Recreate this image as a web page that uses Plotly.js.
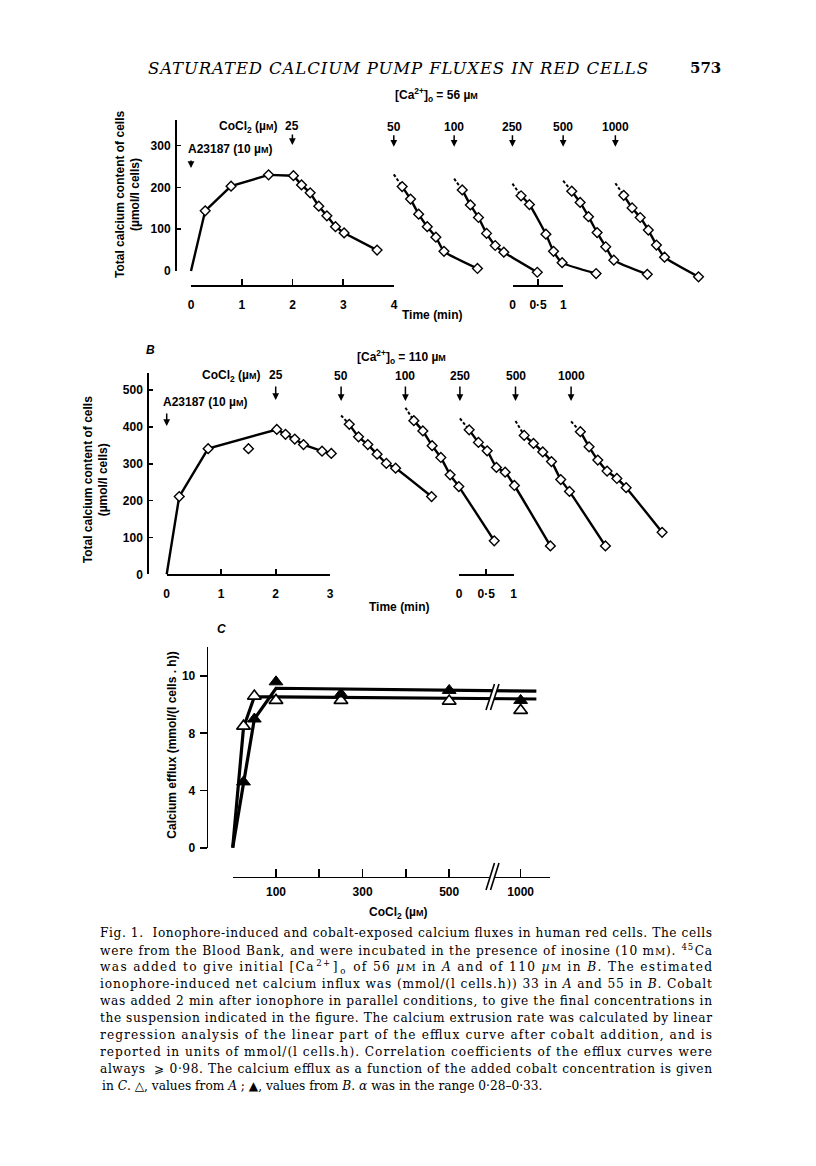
<!DOCTYPE html>
<html><head><meta charset="utf-8">
<script src="https://cdn.plot.ly/plotly-3.0.1.min.js"></script>
<style>html,body{margin:0;padding:0;background:#fff}</style>
</head><body><div id="chart" style="width:816px;height:1166px"></div>
<script>
// ================= DATA =================
const cobaltLabels = ['50', '100', '250', '500', '1000'];

// Panel A : [Ca2+]o = 56 µM — time (min), total Ca (µmol/l cells)
const aMainTime = [0, 0.28, 0.79, 1.53, 2.02, 2.18, 2.35, 2.52, 2.68, 2.85, 3.02, 3.67];
const aMainCa   = [0, 144, 203, 230, 228, 206, 187, 155, 132, 106, 91, 50];
const aSegStartCa = [231, 221, 209, 216, 210];   // extrapolated value at cobalt addition
const aSegTime = [
  [0.165, 0.33, 0.49, 0.66, 0.83, 0.99, 1.65],
  [0.16, 0.32, 0.48, 0.64, 0.81, 0.98, 1.64],
  [0.17, 0.335, 0.66, 0.81, 0.98, 1.65],
  [0.17, 0.335, 0.50, 0.67, 0.84, 1.00, 1.66],
  [0.165, 0.33, 0.49, 0.65, 0.81, 0.97, 1.64]
];
const aSegCa = [
  [202, 172, 136, 106, 81, 47, 6],
  [194, 158, 128, 90, 61, 45, -3],
  [180, 159, 88, 47, 20, -6],
  [191, 164, 130, 92, 58, 26, -8],
  [181, 151, 128, 98, 62, 33, -14]
];

// Panel B : [Ca2+]o = 110 µM
const bMainTime = [0, 0.23, 0.76, 2.02, 2.18, 2.35, 2.51, 2.85, 3.02];
const bMainCa   = [0, 211, 341, 393, 380, 367, 352, 334, 328];
const bOutTime = [1.50];
const bOutCa   = [341];
const bSegStartCa = [431, 452, 423, 416, 415];
const bSegTime = [
  [0.15, 0.32, 0.49, 0.66, 0.83, 1.00, 1.66],
  [0.155, 0.32, 0.49, 0.65, 0.82, 0.98, 1.63],
  [0.17, 0.34, 0.50, 0.67, 0.83, 1.00, 1.66],
  [0.16, 0.33, 0.50, 0.66, 0.83, 0.99, 1.65],
  [0.17, 0.33, 0.49, 0.66, 0.84, 1.01, 1.67]
];
const bSegCa = [
  [407, 373, 352, 326, 301, 288, 211],
  [417, 389, 349, 317, 270, 238, 91],
  [392, 358, 335, 290, 277, 241, 77],
  [377, 355, 332, 306, 257, 225, 77],
  [387, 346, 310, 280, 260, 235, 114]
];

// Panel C : calcium efflux vs CoCl2 (µM)
const cobaltConc = [25, 50, 100, 250, 500, 1000];
const effluxA = [8.5, 10.6, 10.3, 10.3, 10.25, 9.6];    // open triangles
const effluxB = [4.6, 9.0, 11.6, 10.75, 11.0, 10.3];    // filled triangles
const fitConc = [0, 25, 50, 100, 1110];
const fitA = [0, 8.4, 10.55, 10.55, 10.4];
const fitB = [0, 4.6, 9.0, 11.15, 10.95];
const cYTickVals = [0, 4, 8, 12];
const cYTickText = ['0', '4', '8', '10'];
const cXTickVals = [0, 100, 200, 300, 400, 500, 1000];
const cXTickText = ['', '100', '', '300', '', '500', '1000'];

// ================= LAYOUT HELPERS =================
const W = 816, H = 1166;
const fx = p => p / W;
const fy = p => 1 - p / H;
const domX = (a, b) => [fx(a), fx(b)];
const domY = (top, bot) => [fy(bot), fy(top)];
const brk = c => c <= 500 ? c : 500 + (c - 500) * 0.33;   // axis break 500 // 1000

// time offsets (min) where each cobalt concentration was added on the panel time axis
const aSegOffset = [4.0, 5.19, 6.34, 7.34, 8.37];
const bSegOffset = [3.20, 4.38, 5.38, 6.40, 7.42];

const SANS = 'Liberation Sans, Arial, Helvetica, sans-serif';
const SERIF = 'DejaVu Serif, serif';
const tf = {family: SANS, size: 12, color: '#000', weight: 'bold'};
const uM = 'µ<span style="font-size:9px">M</span>';

function hidden(domain, range, anchor) {
  return {domain, range, anchor, showline: false, showgrid: false, zeroline: false,
          showticklabels: false, ticks: '', fixedrange: true};
}
function shownX(domain, range, posY, tickvals, ticktext, ticklen) {
  return {domain, range, anchor: 'free', position: fy(posY), showline: true, linecolor: '#000',
          linewidth: 1.6, ticks: 'inside', ticklen: ticklen, tickwidth: 1.6, tickcolor: '#000',
          tickvals, ticktext, showgrid: false, zeroline: false, tickfont: tf,
          ticklabelstandoff: 8, fixedrange: true};
}
function shownY(domain, range, posX, tickvals, ticktext, ticks, ticklen) {
  return {domain, range, anchor: 'free', position: fx(posX), showline: true, linecolor: '#000',
          linewidth: 1.6, ticks, ticklen, tickwidth: 1.6, tickcolor: '#000',
          tickvals, ticktext, showgrid: false, zeroline: false, tickfont: tf,
          ticklabelstandoff: 2, fixedrange: true};
}

// ================= TRACES =================
const traces = [];
const diamond = {symbol: 'diamond', size: 7.5, color: '#fff', line: {color: '#000', width: 1.4}};
const lineSty = {color: '#000', width: 2.4};

function addMain(xa, ya, t, c) {
  traces.push({x: t, y: c, xaxis: xa, yaxis: ya, mode: 'lines', line: lineSty, hoverinfo: 'skip'});
  traces.push({x: t.slice(1), y: c.slice(1), xaxis: xa, yaxis: ya, mode: 'markers', marker: diamond, hoverinfo: 'skip'});
}
function addSegs(xa, ya, offs, startCa, segT, segCa) {
  segT.forEach((ts, i) => {
    const xs = ts.map(t => offs[i] + t);
    traces.push({x: [offs[i], xs[0]], y: [startCa[i], segCa[i][0]], xaxis: xa, yaxis: ya, mode: 'lines',
                 line: {color: '#000', width: 2, dash: '3px,2px'}, hoverinfo: 'skip'});
    traces.push({x: xs, y: segCa[i], xaxis: xa, yaxis: ya, mode: 'lines+markers',
                 line: Object.assign({shape: 'spline', smoothing: 0.5}, lineSty), marker: diamond, hoverinfo: 'skip'});
  });
}
// Panel A
addMain('x', 'y', aMainTime, aMainCa);
addSegs('x', 'y', aSegOffset, aSegStartCa, aSegTime, aSegCa);
// Panel B
addMain('x4', 'y3', bMainTime, bMainCa);
traces.push({x: bOutTime, y: bOutCa, xaxis: 'x4', yaxis: 'y3', mode: 'markers', marker: diamond, hoverinfo: 'skip'});
addSegs('x4', 'y3', bSegOffset, bSegStartCa, bSegTime, bSegCa);
// Panel C
traces.push({x: fitConc.map(brk), y: fitA, xaxis: 'x7', yaxis: 'y5', mode: 'lines', line: {color: '#000', width: 3.2}, hoverinfo: 'skip'});
traces.push({x: fitConc.map(brk), y: fitB, xaxis: 'x7', yaxis: 'y5', mode: 'lines', line: {color: '#000', width: 3.2}, hoverinfo: 'skip'});
traces.push({x: cobaltConc.map(brk), y: effluxA, xaxis: 'x7', yaxis: 'y5', mode: 'markers',
             marker: {symbol: 'triangle-up', size: 12, color: '#fff', line: {color: '#000', width: 1.6}}, hoverinfo: 'skip'});
traces.push({x: cobaltConc.map(brk), y: effluxB, xaxis: 'x7', yaxis: 'y5', mode: 'markers',
             marker: {symbol: 'triangle-up', size: 12, color: '#000', line: {color: '#000', width: 1}}, hoverinfo: 'skip'});
// placeholders so that the displayed axes get drawn
[['x2', 'y'], ['x3', 'y'], ['x', 'y2'], ['x5', 'y3'], ['x6', 'y3'], ['x4', 'y4'], ['x8', 'y5'], ['x7', 'y6']].forEach(p =>
  traces.push({x: [null], y: [null], xaxis: p[0], yaxis: p[1], mode: 'markers', hoverinfo: 'skip'}));

// ================= ANNOTATIONS =================
function txt(text, x, y, o) {
  return Object.assign({text, x: fx(x), y: fy(y), xref: 'paper', yref: 'paper', showarrow: false,
                        xanchor: 'center', yanchor: 'middle', font: tf}, o || {});
}
function dtxt(text, xv, xref, y) {   // text placed at a data x position
  return {text, x: xv, xref, y: fy(y), yref: 'paper', showarrow: false, xanchor: 'center', yanchor: 'middle', font: tf};
}
function arrowAt(xv, xref, tipY, len) {
  return {text: '', x: xv, xref, y: fy(tipY), yref: 'paper', showarrow: true, ax: 0, ay: -len,
          arrowhead: 2, arrowsize: 0.9, arrowwidth: 1.5, arrowcolor: '#000', standoff: 0, startstandoff: 0};
}
const ann = [];
const captionLines = [
  'Fig. 1.  Ionophore-induced and cobalt-exposed calcium fluxes in human red cells. The cells',
  'were from the Blood Bank, and were incubated in the presence of inosine (10 m<span style="font-size:10px">M</span>). <sup>45</sup>Ca',
  'was added to give initial [Ca<sup>2+</sup>]<sub>o</sub> of 56 <i>µ</i><span style="font-size:10px">M</span> in <i>A</i> and of 110 <i>µ</i><span style="font-size:10px">M</span> in <i>B</i>. The estimated',
  'ionophore-induced net calcium influx was (mmol/(l cells.h)) 33 in <i>A</i> and 55 in <i>B</i>. Cobalt',
  'was added 2 min after ionophore in parallel conditions, to give the final concentrations in',
  'the suspension indicated in the figure. The calcium extrusion rate was calculated by linear',
  'regression analysis of the linear part of the efflux curve after cobalt addition, and is',
  'reported in units of mmol/(l cells.h). Correlation coefficients of the efflux curves were',
  'always  ⩾ 0·98. The calcium efflux as a function of the added cobalt concentration is given',
  'in <i>C</i>. △, values from <i>A</i> ; ▲, values from <i>B</i>. <i>α</i> was in the range 0·28–0·33.'
];
const captionStart = ann.length;
captionLines.forEach((l, i) => ann.push(txt(l, 100, 933.3 + i * 16.93,
  {xanchor: 'left', font: {family: SERIF, size: 12.2, color: '#000'}})));
const headerIdx = ann.length;
ann.push(txt('<i>SATURATED CALCIUM PUMP FLUXES IN RED CELLS</i>', 398, 68, {font: {family: SERIF, size: 16.5, color: '#000'}}));
ann.push(txt('<b>573</b>', 705, 68, {font: {family: SERIF, size: 15, color: '#000'}}));

// Panel A texts
ann.push(txt('[Ca<sup>2+</sup>]<sub>o</sub> = 56 ' + uM, 393, 95, {xanchor: 'left'}));
ann.push(txt('CoCl<sub>2</sub> (' + uM + ')', 279, 127, {xanchor: 'right'}));
ann.push(dtxt('25', 2, 'x', 126));
ann.push(arrowAt(2, 'x', 145, 12));
ann.push(txt('A23187 (10 ' + uM + ')', 186, 149, {xanchor: 'left'}));
ann.push(arrowAt(0, 'x', 168, 9));
cobaltLabels.forEach((lab, i) => {
  ann.push(dtxt(lab, aSegOffset[i], 'x', 126.7));
  ann.push(arrowAt(aSegOffset[i], 'x', 146.7, 13));
});
ann.push(txt('Time (min)', 432, 315));
ann.push(txt('Total calcium content of cells', 120, 195, {textangle: -90}));
ann.push(txt('(µmol/l cells)', 135, 195, {textangle: -90}));

// Panel B texts
ann.push(txt('<i>B</i>', 150, 350));
ann.push(txt('[Ca<sup>2+</sup>]<sub>o</sub> = 110 ' + uM, 355, 357, {xanchor: 'left'}));
ann.push(txt('CoCl<sub>2</sub> (' + uM + ')', 262, 376, {xanchor: 'right'}));
ann.push(dtxt('25', 2, 'x4', 375));
ann.push(arrowAt(2, 'x4', 400, 15));
ann.push(txt('A23187 (10 ' + uM + ')', 161, 401.7, {xanchor: 'left'}));
ann.push(arrowAt(0, 'x4', 426, 14));
cobaltLabels.forEach((lab, i) => {
  ann.push(dtxt(lab, bSegOffset[i], 'x4', 376));
  ann.push(arrowAt(bSegOffset[i], 'x4', 401, 16));
});
ann.push(txt('Time (min)', 399, 606.7));
ann.push(txt('Total calcium content of cells', 88.3, 480, {textangle: -90}));
ann.push(txt('(µmol/l cells)', 103.3, 480, {textangle: -90}));

// Panel C texts
ann.push(txt('<i>C</i>', 221.7, 629));
ann.push(txt('CoCl<sub>2</sub> (' + uM + ')', 397.5, 913.3));
ann.push(txt('Calcium efflux (mmol/(l cells . h))', 171.7, 745, {textangle: -90}));

// ================= SHAPES (axis break marks in C) =================
function path(pts) { return 'M' + pts.map(p => fx(p[0]) + ',' + fy(p[1])).join(' L') + ' Z'; }
const shapes = [];
[[684, 710], [863, 890]].forEach(([t, b]) => {
  shapes.push({type: 'path', xref: 'paper', yref: 'paper', layer: 'above', line: {width: 0},
               fillcolor: '#fff', path: path([[486, b], [494.5, t], [499, t], [490.5, b]])});
  shapes.push({type: 'line', xref: 'paper', yref: 'paper', layer: 'above', x0: fx(486), y0: fy(b), x1: fx(494.5), y1: fy(t), line: {color: '#000', width: 1.6}});
  shapes.push({type: 'line', xref: 'paper', yref: 'paper', layer: 'above', x0: fx(490.5), y0: fy(b), x1: fx(499), y1: fy(t), line: {color: '#000', width: 1.6}});
});

// ================= LAYOUT =================
const layout = {
  width: W, height: H, margin: {l: 0, r: 0, t: 0, b: 0},
  paper_bgcolor: '#fff', plot_bgcolor: 'rgba(0,0,0,0)', showlegend: false,
  font: {family: SANS, color: '#000'},
  // Panel A
  xaxis: hidden(domX(180, 716), [(180 - 191) / 50.7, (716 - 191) / 50.7], 'y'),
  yaxis: hidden(domY(115, 292), [(271 - 292) / 0.418, (271 - 115) / 0.418], 'x'),
  xaxis2: shownX(domX(191, 394), [0, 4], 285, [0, 1, 2, 3, 4], ['0', '1', '2', '3', '4'], 6),
  xaxis3: shownX(domX(512.7, 563.4), [0, 1], 285, [0, 0.5, 1], ['0', '0·5', '1'], 6),
  yaxis2: shownY(domY(120, 271), [0, (271 - 120) / 0.418], 175, [0, 100, 200, 300], ['0', '100', '200', '300'], 'inside', 4),
  // Panel B
  xaxis4: hidden(domX(150, 716), [(150 - 166.7) / 54.5, (716 - 166.7) / 54.5], 'y3'),
  yaxis3: hidden(domY(365, 590), [(574.3 - 590) / 0.3685, (574.3 - 365) / 0.3685], 'x4'),
  xaxis5: shownX(domX(166.7, 330.2), [0, 3], 574, [0, 1, 2, 3], ['0', '1', '2', '3'], 5.5),
  xaxis6: shownX(domX(459, 513.5), [0, 1], 574, [0, 0.5, 1], ['0', '0·5', '1'], 5.5),
  yaxis4: shownY(domY(373, 574.3), [0, (574.3 - 373) / 0.3685], 147.3, [0, 100, 200, 300, 400, 500], ['0', '100', '200', '300', '400', '500'], 'inside', 4),
  // Panel C
  xaxis7: hidden(domX(220, 560), [(220 - 232.7) / 0.433, (560 - 232.7) / 0.433], 'y5'),
  yaxis5: hidden(domY(640, 855), [(847.7 - 855) / 14.3, (847.7 - 640) / 14.3], 'x7'),
  xaxis8: shownX(domX(232.7, 550), [0, (550 - 232.7) / 0.433], 876.7, cXTickVals.map(brk), cXTickText, 8),
  yaxis6: shownY(domY(646.7, 847.7), [0, (847.7 - 646.7) / 14.3], 206.7, cYTickVals, cYTickText, 'outside', 7),
  annotations: ann,
  shapes: shapes
};
layout.xaxis8.ticklabelstandoff = 3;

function justify(t, width, left) {
  const w0 = t.getComputedTextLength ? t.getComputedTextLength() : 0;
  if (w0 > width * 0.72 && w0 < width * 1.1) {
    t.setAttribute('textLength', width);
    t.setAttribute('lengthAdjust', 'spacing');
  }
  const r = t.getBoundingClientRect();
  const dx = left - r.left;
  const prev = t.getAttribute('transform') || '';
  t.setAttribute('transform', prev + ' translate(' + dx + ',0)');
}

Plotly.newPlot('chart', traces, layout, {displayModeBar: false, staticPlot: true}).then(gd => {
  // justify caption lines and header like the printed page
  const groups = gd.querySelectorAll('.annotation');
  groups.forEach(g => {
    const idx = +g.getAttribute('data-index');
    const t = g.querySelector('text.annotation-text');
    if (!t) return;
    if (idx >= captionStart && idx < captionStart + captionLines.length - 1) {
      justify(t, 612, 100);
    } else if (idx === headerIdx) {
      justify(t, 500, 148);
    }
  });
});
</script>
</body></html>
